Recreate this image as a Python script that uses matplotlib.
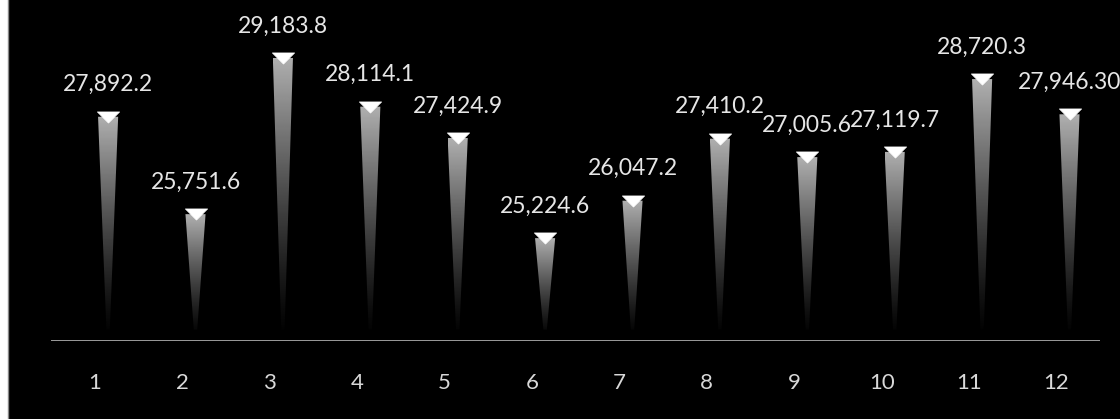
import numpy as np
import matplotlib
matplotlib.use("Agg")
import matplotlib.pyplot as plt
from matplotlib.patches import Polygon, Rectangle
from matplotlib.lines import Line2D
from matplotlib.path import Path

categories = ["1", "2", "3", "4", "5", "6", "7", "8", "9", "10", "11", "12"]
values = [27892.2, 25751.6, 29183.8, 28114.1, 27424.9, 25224.6,
          26047.2, 27410.2, 27005.6, 27119.7, 28720.3, 27946.3]
labels = ["27,892.2", "25,751.6", "29,183.8", "28,114.1", "27,424.9", "25,224.6",
          "26,047.2", "27,410.2", "27,005.6", "27,119.7", "28,720.3", "27,946.30"]

W, H, DPI = 1120, 419, 100
fig = plt.figure(figsize=(W / DPI, H / DPI), dpi=DPI, facecolor="black")
base_px = 341
ax = fig.add_axes([0, (H - base_px) / H, 1, base_px / H])
ax.set_facecolor("black")
for s in ax.spines.values():
    s.set_visible(False)

ymin, ymax = 22964, 30458
xmin, xmax = 1 - 95 / 87.4, 1 + (W - 95) / 87.4
ax.set_xlim(xmin, xmax)
ax.set_ylim(ymin, ymax)

font = "Lato"
shift = 0.15
top_w, bot_w = 0.23, 0.04
tri = Path([(-1, 0.5), (1, 0.5), (0, -0.5), (-1, 0.5)],
           [Path.MOVETO, Path.LINETO, Path.LINETO, Path.CLOSEPOLY])
grad = np.linspace(0, 1, 256).reshape(-1, 1)  # bottom -> top
for i, (v, lab) in enumerate(zip(values, labels)):
    x = i + 1 + shift
    poly = Polygon([(x - top_w / 2, v), (x + top_w / 2, v),
                    (x + bot_w / 2, ymin + 250), (x - bot_w / 2, ymin + 250)],
                   closed=True, facecolor="none", edgecolor="none")
    ax.add_patch(poly)
    im = ax.imshow(grad ** 1.3, cmap="gray", vmin=0, vmax=1.45, origin="lower",
                   extent=(x - top_w / 2, x + top_w / 2, ymin, v),
                   aspect="auto", interpolation="bilinear", zorder=2)
    im.set_clip_path(poly)
    ax.plot([x], [v], marker=tri, markersize=16, color="white",
            markeredgecolor="white", markeredgewidth=0.5, zorder=3,
            linestyle="none")
    ax.annotate(lab, (x, v), xytext=(0, 23), textcoords="offset points",
                ha="center", va="center", color="#e6e6e6", fontsize=16.5,
                fontfamily=font, zorder=4)

ax.plot([0.5, 12.5], [ymin + 10, ymin + 10], color="#a8a8a8", lw=1.3,
        zorder=1, solid_capstyle="butt")

ax.set_xticks(range(1, 13))
ax.set_xticklabels(categories, fontsize=16, fontfamily=font, color="#d8d8d8")
ax.tick_params(axis="x", length=0, pad=23)
ax.set_yticks([])

# white scan margin on the left
fig.patches.append(Rectangle((0, 0), 7.5 / W, 1, transform=fig.transFigure,
                             facecolor="white", edgecolor="none", zorder=5))
fig.lines.append(Line2D([7.5 / W, 7.5 / W], [0, 1], transform=fig.transFigure,
                        color="#888888", lw=1, zorder=6))

fig.savefig("out.png", dpi=DPI, facecolor=fig.get_facecolor())
